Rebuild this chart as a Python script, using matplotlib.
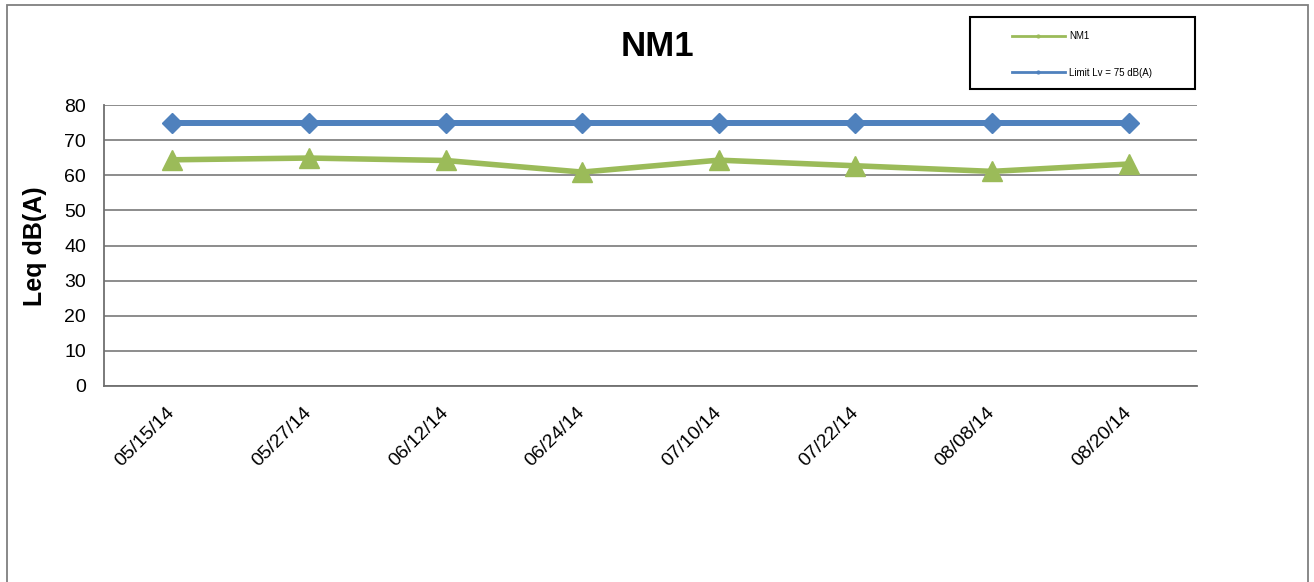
import numpy as np
import matplotlib
matplotlib.use('Agg')
import matplotlib.pyplot as plt
from matplotlib.lines import Line2D
from matplotlib.patches import Rectangle

# ── data ─────────────────────────────────────────────────────────────────────
dates = ['05/15/14', '05/27/14', '06/12/14', '06/24/14',
         '07/10/14', '07/22/14', '08/08/14', '08/20/14']
nm1   = [64.4, 64.9, 64.2, 60.9, 64.3, 62.7, 61.1, 63.2]
limit = [75, 75, 75, 75, 75, 75, 75, 75]

GREEN = '#9BBB59'
BLUE  = '#4F81BD'
GRID  = '#8C8C8C'

plt.rcParams.update({
    'font.family': ['Liberation Sans', 'DejaVu Sans'],
})

W, H = 1314, 582
fig = plt.figure(figsize=(W / 100, H / 100), dpi=100)

# chart-area frame
fig.patches.append(Rectangle((7 / W, -0.01), 1301 / W, 1 - 4.5 / H + 0.01,
                             transform=fig.transFigure, fill=False,
                             edgecolor='#7f7f7f', lw=1.3))

ax = fig.add_axes([104 / W, 1 - 386 / H, 1093 / W, 281 / H])
x = np.arange(len(dates))

ax.plot(x, limit, color=BLUE, lw=4.3, marker='D', ms=10.5, zorder=3)
ax.plot(x, nm1, color=GREEN, lw=4.0, marker='^', ms=14, zorder=4)

ax.set_xlim(-0.5, len(dates) - 0.5)
ax.set_ylim(0, 80)
ax.set_yticks(np.arange(0, 81, 10))
ax.set_xticks(x)
ax.set_xticklabels(dates, rotation=45, ha='right', va='center',
                   rotation_mode='anchor', fontsize=14)
ax.tick_params(axis='y', length=0, pad=13, labelsize=14)
ax.tick_params(axis='x', length=0, pad=17)
ax.yaxis.grid(True, color=GRID, lw=1.4)
ax.set_axisbelow(True)
for s in ['top', 'right']:
    ax.spines[s].set_visible(False)
for s in ['left', 'bottom']:
    ax.spines[s].set_color('#6f6f6f')
    ax.spines[s].set_linewidth(1.3)

fig.text(35 / W, 1 - 246 / H, 'Leq dB(A)', rotation=90, ha='center',
         va='center', fontsize=18, fontweight='bold')
fig.text(657 / W, 1 - 47 / H, 'NM1', ha='center', va='center',
         fontsize=25, fontweight='bold')

# legend
fig.patches.append(Rectangle((970 / W, 1 - 89 / H), 225 / W, 72 / H,
                             transform=fig.transFigure, fill=False,
                             edgecolor='black', lw=1.5))
handles = [Line2D([], [], color=GREEN, lw=2, marker='o', ms=2),
           Line2D([], [], color=BLUE, lw=2, marker='o', ms=2)]
fig.legend(handles, ['NM1', 'Limit Lv = 75 dB(A)'], loc='upper left',
           bbox_to_anchor=(1012 / W, 1 - 31 / H), frameon=False,
           fontsize=7, numpoints=1, handlelength=5.4, handletextpad=0.5,
           labelspacing=2.75, borderpad=0, borderaxespad=0)

plt.savefig('out.png', dpi=100)
